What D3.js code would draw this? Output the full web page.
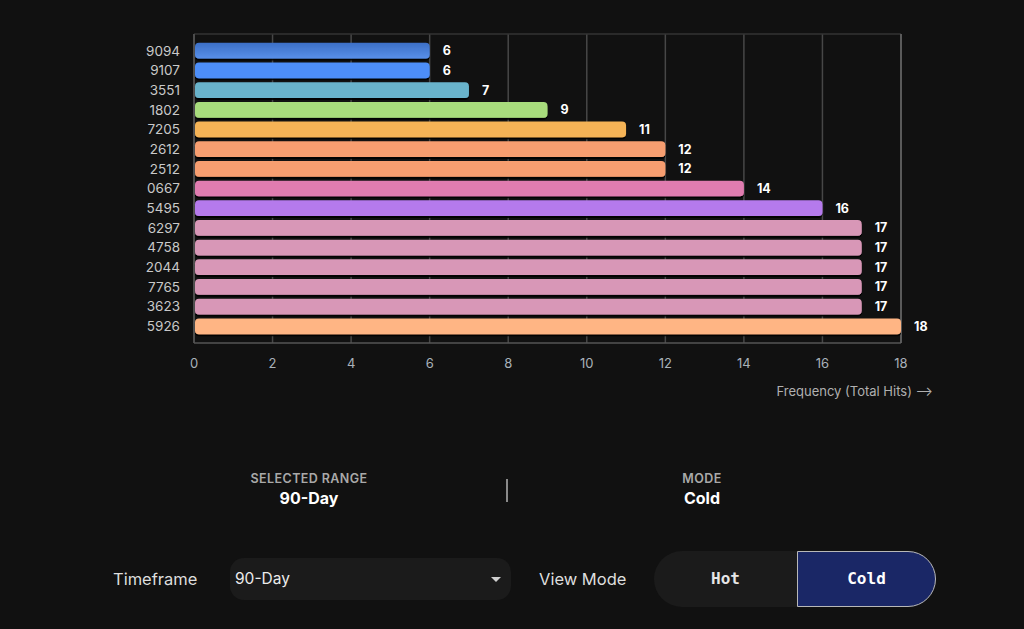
<!DOCTYPE html>
<html>
<head>
<meta charset="utf-8">
<script src="https://cdn.jsdelivr.net/npm/d3@7"></script>
<style>
    body { margin: 0; background: #111111; width: 1024px; height: 629px; overflow: hidden; font-family: "Inter", "Noto Sans", sans-serif; }
    #chart { position: absolute; left: 0; top: 0; }
    .stat { position: absolute; text-align: center; width: 200px; }
    .stat .lbl { font-size: 12.5px; font-weight: 600; color: #a9a9a9; letter-spacing: 0.4px; }
    .stat .val { font-size: 16px; font-weight: 700; color: #ffffff; margin-top: 2px; }
    .divider { position: absolute; left: 506px; top: 479px; width: 2px; height: 23px; background: #8a8a8a; }
    .ctl-label { position: absolute; font-size: 16.5px; color: #dedede; top: 569px; }
    .select { position: absolute; left: 230px; top: 558px; width: 281px; height: 42px; background: #1b1b1b; border-radius: 14px; }
    .select span { position: absolute; left: 5px; top: 11px; font-size: 15.5px; color: #ececec; }
    .select .caret { position: absolute; right: 10px; top: 19px; width: 0; height: 0; border-left: 5px solid transparent; border-right: 5px solid transparent; border-top: 5px solid #d0d0d0; }
    .toggle { position: absolute; left: 654px; top: 551px; width: 282px; height: 56px; background: #1b1b1b; border-radius: 28px; }
    .toggle div { position: absolute; top: 0; height: 56px; line-height: 56px; text-align: center; font-family: "DejaVu Sans Mono", monospace; font-size: 16px; }
    .toggle .hot { left: 0; width: 143px; color: #e6e6e6; font-weight: 600; }
    .toggle .cold { left: 143px; width: 137px; height: 54px; line-height: 54px; background: #1a2766; color: #ffffff; font-weight: 700; border: 1px solid #b8b8b8; border-radius: 0 28px 28px 0; }
</style>
</head>
<body>
<div id="chart"></div>

<div class="stat" style="left:209px; top:471px;"><div class="lbl">SELECTED RANGE</div><div class="val">90-Day</div></div>
<div class="divider"></div>
<div class="stat" style="left:602px; top:471px;"><div class="lbl">MODE</div><div class="val">Cold</div></div>

<div class="ctl-label" style="left:113px;">Timeframe</div>
<div class="select"><span>90-Day</span><div class="caret"></div></div>
<div class="ctl-label" style="left:539px;">View Mode</div>
<div class="toggle"><div class="hot">Hot</div><div class="cold">Cold</div></div>

<script>
const numbers = ["9094", "9107", "3551", "1802", "7205", "2612", "2512", "0667", "5495", "6297", "4758", "2044", "7765", "3623", "5926"];
const hits = [6, 6, 7, 9, 11, 12, 12, 14, 16, 17, 17, 17, 17, 17, 18];
const barColors = ["url(#grad0)", "#4d8ef8", "#69b3cb", "#a8dc7c", "#f5b356", "#f79e70", "#f79e70", "#e07cb0",
    "#b57aec", "#d897b7", "#d897b7", "#d897b7", "#d897b7", "#d897b7", "#ffb584"];
const xTicks = [0, 2, 4, 6, 8, 10, 12, 14, 16, 18];

const margin = { top: 34, left: 194 },
    width = 707,
    height = 309;

const svg = d3.select("#chart")
    .append("svg")
    .attr("width", 1024)
    .attr("height", 440);

const defs = svg.append("defs");
const grad = defs.append("linearGradient").attr("id", "grad0")
    .attr("x1", 0).attr("y1", 0).attr("x2", 0).attr("y2", 1);
grad.append("stop").attr("offset", "0%").attr("stop-color", "#3c6fc6");
grad.append("stop").attr("offset", "100%").attr("stop-color", "#5890ea");

const shadow = defs.append("filter").attr("id", "shadow")
    .attr("x", "-5%").attr("y", "-20%").attr("width", "110%").attr("height", "160%");
shadow.append("feDropShadow").attr("dx", 0).attr("dy", 2).attr("stdDeviation", 0.6)
    .attr("flood-color", "#000").attr("flood-opacity", 0.9);

const g = svg.append("g").attr("transform", `translate(${margin.left},${margin.top})`);

const x = d3.scaleLinear().domain([0, 18]).range([0, width]);
const y = d3.scaleBand().domain(numbers).range([0, height]).paddingInner(0.2).paddingOuter(0.45);

// grid
g.selectAll(".grid")
    .data(xTicks)
    .enter()
    .append("line")
    .attr("x1", d => x(d)).attr("x2", d => x(d))
    .attr("y1", 0).attr("y2", height)
    .attr("stroke", "#474747")
    .attr("stroke-width", 1.5);

// frame
g.append("line").attr("x1", 0).attr("x2", width).attr("y1", 0).attr("y2", 0).attr("stroke", "#333").attr("stroke-width", 1.5);
g.append("line").attr("x1", 0).attr("x2", width).attr("y1", height).attr("y2", height).attr("stroke", "#555").attr("stroke-width", 1.5);
g.append("line").attr("x1", 0).attr("x2", 0).attr("y1", 0).attr("y2", height).attr("stroke", "#555").attr("stroke-width", 1.5);
g.append("line").attr("x1", width).attr("x2", width).attr("y1", 0).attr("y2", height).attr("stroke", "#666").attr("stroke-width", 1.5);

const rows = numbers.map((n, i) => ({ num: n, value: hits[i], color: barColors[i] }));

g.selectAll(".bar")
    .data(rows)
    .enter()
    .append("rect")
    .attr("x", x(0) + 1)
    .attr("y", d => y(d.num))
    .attr("width", d => x(d.value) - x(0) - 1)
    .attr("height", y.bandwidth())
    .attr("rx", 4)
    .attr("fill", d => d.color)
    .attr("filter", "url(#shadow)");

g.selectAll(".val")
    .data(rows)
    .enter()
    .append("text")
    .attr("x", d => x(d.value) + 13)
    .attr("y", d => y(d.num) + y.bandwidth() / 2)
    .attr("dy", "0.36em")
    .attr("fill", "#ffffff")
    .attr("font-size", 12.5)
    .attr("font-weight", 700)
    .text(d => d.value);

// y labels
g.selectAll(".ylab")
    .data(numbers)
    .enter()
    .append("text")
    .attr("x", -14)
    .attr("y", d => y(d) + y.bandwidth() / 2)
    .attr("dy", "0.36em")
    .attr("text-anchor", "end")
    .attr("fill", "#c9c9c9")
    .attr("font-size", 13.5)
    .text(d => d);

// x labels
g.selectAll(".xlab")
    .data(xTicks)
    .enter()
    .append("text")
    .attr("x", d => x(d))
    .attr("y", height + 20)
    .attr("dy", "0.36em")
    .attr("text-anchor", "middle")
    .attr("fill", "#a9b1b9")
    .attr("font-size", 13)
    .text(d => d);

svg.append("text")
    .attr("x", 933)
    .attr("y", 391)
    .attr("dy", "0.36em")
    .attr("text-anchor", "end")
    .attr("fill", "#b0b0b0")
    .attr("font-size", 13)
    .text("Frequency (Total Hits) \u27F6");
</script>
</body>
</html>
